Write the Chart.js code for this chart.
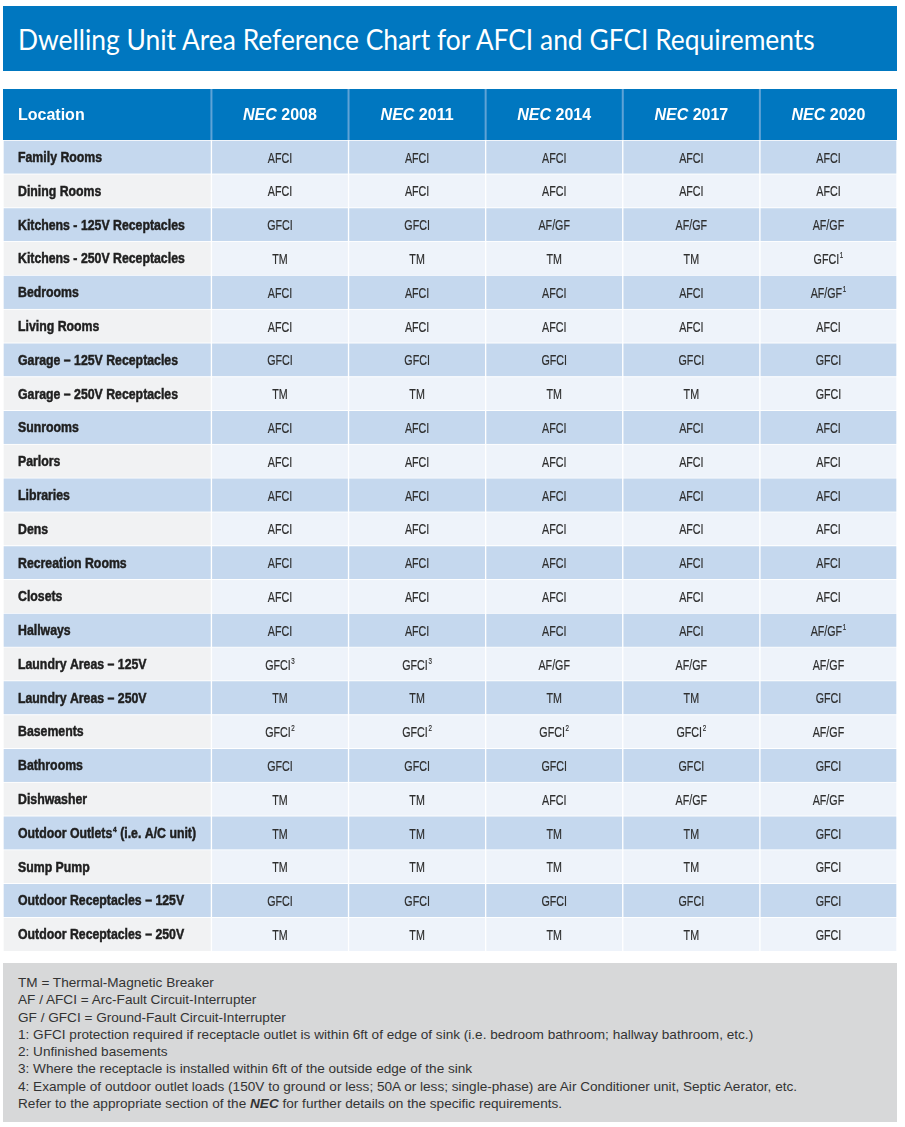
<!DOCTYPE html>
<html>
<head>
<meta charset="utf-8">
<script src="https://cdn.jsdelivr.net/npm/chart.js@4.4.1/dist/chart.umd.min.js"></script>
<style>
  body { margin: 0; background: #fff; width: 905px; height: 1127px; position: relative; overflow: hidden; }
  .title {
    position: absolute; left: 3px; top: 6px; width: 879px; height: 65px;
    background: #0077c0; color: #fff; padding-left: 15px; white-space: nowrap;
    font: 400 29px "Lato", "Noto Sans", sans-serif; line-height: 65px;
  }
  .title span { display: inline-block; transform: scaleX(0.91); transform-origin: left center; }
  .table-wrap { position: absolute; left: 3px; top: 89px; width: 894px; height: 862px; }
  .notes {
    position: absolute; left: 3px; top: 963px; width: 879px; height: 148px;
    background: #d7d8d9; color: #333; padding: 11px 0 0 15px;
    font: 13.6px "Liberation Sans", Arial, sans-serif; line-height: 17.3px;
  }
</style>
</head>
<body>
<div class="title"><span>Dwelling Unit Area Reference Chart for AFCI and GFCI Requirements</span></div>
<div class="table-wrap"><canvas id="chart"></canvas></div>
<div class="notes">
  TM = Thermal-Magnetic Breaker<br>
  AF / AFCI = Arc-Fault Circuit-Interrupter<br>
  GF / GFCI = Ground-Fault Circuit-Interrupter<br>
  1: GFCI protection required if receptacle outlet is within 6ft of edge of sink (i.e. bedroom bathroom; hallway bathroom, etc.)<br>
  2: Unfinished basements<br>
  3: Where the receptacle is installed within 6ft of the outside edge of the sink<br>
  4: Example of outdoor outlet loads (150V to ground or less; 50A or less; single-phase) are Air Conditioner unit, Septic Aerator, etc.<br>
  Refer to the appropriate section of the <b><i>NEC</i></b> for further details on the specific requirements.
</div>

<script>
// ---- data ----
const headers = ['Location', '2008', '2011', '2014', '2017', '2020'];

const locations = [
    'Family Rooms', 'Dining Rooms', 'Kitchens - 125V Receptacles', 'Kitchens - 250V Receptacles',
    'Bedrooms', 'Living Rooms', 'Garage – 125V Receptacles', 'Garage – 250V Receptacles',
    'Sunrooms', 'Parlors', 'Libraries', 'Dens', 'Recreation Rooms', 'Closets', 'Hallways',
    'Laundry Areas – 125V', 'Laundry Areas – 250V', 'Basements', 'Bathrooms', 'Dishwasher',
    'Outdoor Outlets^4 (i.e. A/C unit)', 'Sump Pump', 'Outdoor Receptacles – 125V', 'Outdoor Receptacles – 250V'
];

const nec2008 = ['AFCI', 'AFCI', 'GFCI', 'TM', 'AFCI', 'AFCI', 'GFCI', 'TM', 'AFCI', 'AFCI', 'AFCI', 'AFCI',
    'AFCI', 'AFCI', 'AFCI', 'GFCI^3', 'TM', 'GFCI^2', 'GFCI', 'TM', 'TM', 'TM', 'GFCI', 'TM'];
const nec2011 = ['AFCI', 'AFCI', 'GFCI', 'TM', 'AFCI', 'AFCI', 'GFCI', 'TM', 'AFCI', 'AFCI', 'AFCI', 'AFCI',
    'AFCI', 'AFCI', 'AFCI', 'GFCI^3', 'TM', 'GFCI^2', 'GFCI', 'TM', 'TM', 'TM', 'GFCI', 'TM'];
const nec2014 = ['AFCI', 'AFCI', 'AF/GF', 'TM', 'AFCI', 'AFCI', 'GFCI', 'TM', 'AFCI', 'AFCI', 'AFCI', 'AFCI',
    'AFCI', 'AFCI', 'AFCI', 'AF/GF', 'TM', 'GFCI^2', 'GFCI', 'AFCI', 'TM', 'TM', 'GFCI', 'TM'];
const nec2017 = ['AFCI', 'AFCI', 'AF/GF', 'TM', 'AFCI', 'AFCI', 'GFCI', 'TM', 'AFCI', 'AFCI', 'AFCI', 'AFCI',
    'AFCI', 'AFCI', 'AFCI', 'AF/GF', 'TM', 'GFCI^2', 'GFCI', 'AF/GF', 'TM', 'TM', 'GFCI', 'TM'];
const nec2020 = ['AFCI', 'AFCI', 'AF/GF', 'GFCI^1', 'AF/GF^1', 'AFCI', 'GFCI', 'GFCI', 'AFCI', 'AFCI', 'AFCI', 'AFCI',
    'AFCI', 'AFCI', 'AF/GF^1', 'AF/GF', 'GFCI', 'AF/GF', 'GFCI', 'AF/GF', 'GFCI', 'GFCI', 'GFCI', 'GFCI'];

const columns = [locations, nec2008, nec2011, nec2014, nec2017, nec2020];

// ---- styles / layout ----
const colors = {
    header: '#0077c0',
    headerLine: '#5fa3d6',
    rowDark: '#c5d8ee',
    rowLight: '#eef3fa',
    locLight: '#f1f2f3',
    cellLine: 'rgba(255,255,255,0.85)',
    text: '#2e2e2e',
    locText: '#1f1f1f'
};
const locationColWidth = 1.52;   // in units of one NEC column
const headerHeight = 51;
const sans = '"Liberation Sans", Arial, sans-serif';

function colSpan(c) {
    if (c === 0) return [0, locationColWidth];
    return [locationColWidth + c - 1, locationColWidth + c];
}

// condensed text with ^n superscripts (horizontal squeeze fakes the narrow face)
function drawRich(ctx, text, x, y, size, weight, align, squeeze, heavy) {
    const parts = text.split('^');
    const main = parts[0];
    const sup = parts.length > 1 ? parts[1] : '';
    const supChar = sup.charAt(0);
    const rest = sup.slice(1);
    const fMain = weight + ' ' + size + 'px ' + sans;
    const fSup = weight + ' ' + Math.round(size * 0.55) + 'px ' + sans;
    ctx.font = fMain;
    const w1 = ctx.measureText(main).width;
    const w3 = ctx.measureText(rest).width;
    ctx.font = fSup;
    const w2 = supChar ? ctx.measureText(supChar).width + 1 : 0;
    const total = (w1 + w2 + w3) * squeeze;
    const start = align === 'center' ? x - total / 2 : x;
    const put = (t, px, py) => {
        ctx.fillText(t, px, py);
        if (heavy) ctx.strokeText(t, px, py);
    };
    ctx.save();
    ctx.translate(start, y);
    ctx.scale(squeeze, 1);
    ctx.textAlign = 'left';
    ctx.textBaseline = 'middle';
    ctx.strokeStyle = ctx.fillStyle;
    ctx.lineWidth = heavy || 0;
    ctx.font = fMain;
    put(main, 0, 0);
    if (supChar) {
        ctx.font = fSup;
        put(supChar, w1 + 1, -4);
        ctx.font = fMain;
        put(rest, w1 + w2, 0);
    }
    ctx.restore();
}

const cellTextPlugin = {
    id: 'cellText',
    afterDatasetsDraw(chart) {
        const ctx = chart.ctx;
        chart.data.datasets.forEach((ds, c) => {
            const meta = chart.getDatasetMeta(c);
            meta.data.forEach((bar, r) => {
                const p = bar.getProps(['x', 'y', 'base'], true);
                const left = Math.min(p.x, p.base);
                const right = Math.max(p.x, p.base);
                if (c === 0) {
                    ctx.fillStyle = colors.locText;
                    drawRich(ctx, columns[c][r], left + 15, p.y + 1, 15, 'bold', 'left', 0.82, 0.5);
                } else {
                    ctx.fillStyle = colors.text;
                    drawRich(ctx, columns[c][r], (left + right) / 2, p.y + 1.5, 15.5, 'normal', 'center', 0.69, 0.2);
                }
            });
        });
    }
};

const headerPlugin = {
    id: 'headerRow',
    afterDraw(chart) {
        const ctx = chart.ctx;
        const xs = chart.scales.x;
        const top = chart.chartArea.top - headerHeight;
        const mid = top + headerHeight / 2 + 1;
        ctx.save();
        headers.forEach((h, c) => {
            const [a, b] = colSpan(c);
            const x0 = xs.getPixelForValue(a);
            const x1 = xs.getPixelForValue(b);
            ctx.fillStyle = colors.header;
            ctx.fillRect(x0, top, x1 - x0, headerHeight);
            if (c > 0) {
                ctx.fillStyle = colors.headerLine;
                ctx.fillRect(x0 - 1, top, 2, headerHeight);
            }
            ctx.fillStyle = '#ffffff';
            ctx.textBaseline = 'middle';
            ctx.textAlign = 'left';
            if (c === 0) {
                ctx.font = 'bold 16px ' + sans;
                ctx.fillText(h, x0 + 15, mid);
            } else {
                ctx.font = 'italic bold 16px ' + sans;
                const wN = ctx.measureText('NEC ').width;
                ctx.font = 'bold 16px ' + sans;
                const wY = ctx.measureText(h).width;
                const sx = (x0 + x1) / 2 - (wN + wY) / 2;
                ctx.font = 'italic bold 16px ' + sans;
                ctx.fillText('NEC', sx, mid);
                ctx.font = 'bold 16px ' + sans;
                ctx.fillText(h, sx + wN, mid);
            }
        });
        ctx.restore();
    }
};

const datasets = columns.map((col, c) => ({
    label: headers[c],
    data: locations.map(() => colSpan(c)),
    grouped: false,
    barPercentage: 1,
    categoryPercentage: 1,
    borderSkipped: false,
    borderWidth: { left: 1, right: 1, top: 1, bottom: 0 },
    borderColor: colors.cellLine,
    backgroundColor: (ctx) => {
        const r = ctx.dataIndex;
        if (r % 2 === 0) return colors.rowDark;
        return c === 0 ? colors.locLight : colors.rowLight;
    }
}));

new Chart(document.getElementById('chart'), {
    type: 'bar',
    data: { labels: locations, datasets },
    options: {
        indexAxis: 'y',
        responsive: true,
        maintainAspectRatio: false,
        animation: false,
        layout: { padding: { top: headerHeight } },
        plugins: {
            legend: { display: false },
            tooltip: { enabled: false }
        },
        scales: {
            x: { type: 'linear', min: 0, max: locationColWidth + 5, display: false },
            y: { type: 'category', display: false }
        }
    },
    plugins: [cellTextPlugin, headerPlugin]
});
</script>
</body>
</html>
